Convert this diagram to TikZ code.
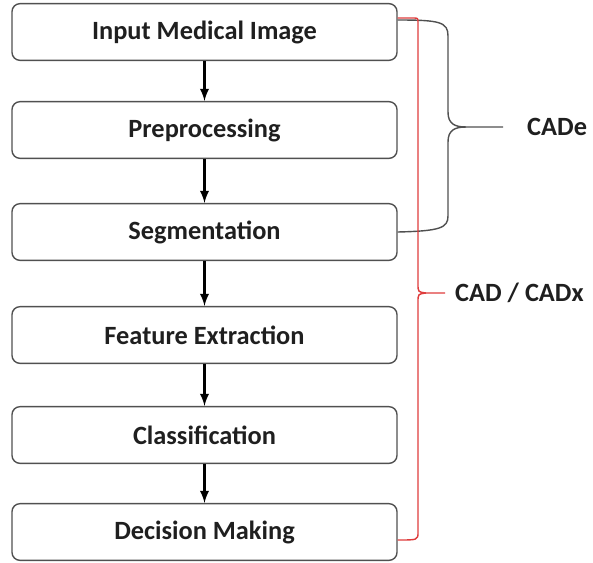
\documentclass[tikz,border=0pt]{standalone}
\usepackage{fontspec}
\setmainfont{Carlito}
\usepackage{tikz}
\usepackage{xcolor}
\definecolor{boxgray}{RGB}{80,80,80}
\definecolor{cadred}{RGB}{222,60,60}
\tikzset{
  stage/.style={draw=boxgray,line width=1.2pt,rounded corners=0.24cm,minimum width=11.55cm,minimum height=1.7cm,font=\fontsize{22.5}{26}\selectfont\bfseries,text=black!88},
  flow/.style={-latex,line width=2.5pt,black},
  brace/.style={draw=boxgray,line width=1.2pt},
  redbrace/.style={draw=cadred,line width=1.2pt},
  tag/.style={anchor=west,font=\fontsize{22.5}{26}\selectfont\bfseries,text=black!88,inner sep=0pt}
}
\begin{document}
\begin{tikzpicture}[x=0.03cm,y=-0.03cm]
\useasboundingbox (0,0) rectangle (593,562);
\node[stage] (b1) at (204.5,32) {Input Medical Image};
\node[stage] (b2) at (204.5,130) {Preprocessing};
\node[stage] (b3) at (204.5,232) {Segmentation};
\node[stage] (b4) at (204.5,335) {Feature Extraction};
\node[stage] (b5) at (204.5,435) {Classification};
\node[stage] (b6) at (204.5,532) {Decision Making};
\draw[flow] (b1) -- (b2);
\draw[flow] (b2) -- (b3);
\draw[flow] (b3) -- (b4);
\draw[flow] (b4) -- (b5);
\draw[flow] (b5) -- (b6);
\coordinate (cadejoin) at (466,127);
\coordinate (cadetip) at (503,127);
\coordinate (cadxjoin) at (426,293);
\coordinate (cadxtip) at (445,293);
\draw[brace] ([yshift=0.36cm]b1.east) .. controls (440,20) and (448,22) .. (448,36) -- (448,112) .. controls (448,124) and (455,127) .. (cadejoin) -- (cadetip);
\draw[brace] (cadejoin) .. controls (455,127) and (448,130) .. (448,142) -- (448,216) .. controls (448,228) and (440,231) .. (b3.east);
\draw[redbrace] ([yshift=0.42cm]b1.east) -- (413,18) .. controls (418,18) .. (418,23) -- (418,284) .. controls (418,292) .. (cadxjoin) -- (cadxtip);
\draw[redbrace] (cadxjoin) .. controls (418,294) .. (418,302) -- (418,532) .. controls (418,540) .. ([yshift=-0.24cm]b6.east);
\node[tag] (cade) at (527,127) {CADe};
\node[tag] (cadx) at (455,293) {CAD / CADx};
\end{tikzpicture}
\end{document}
